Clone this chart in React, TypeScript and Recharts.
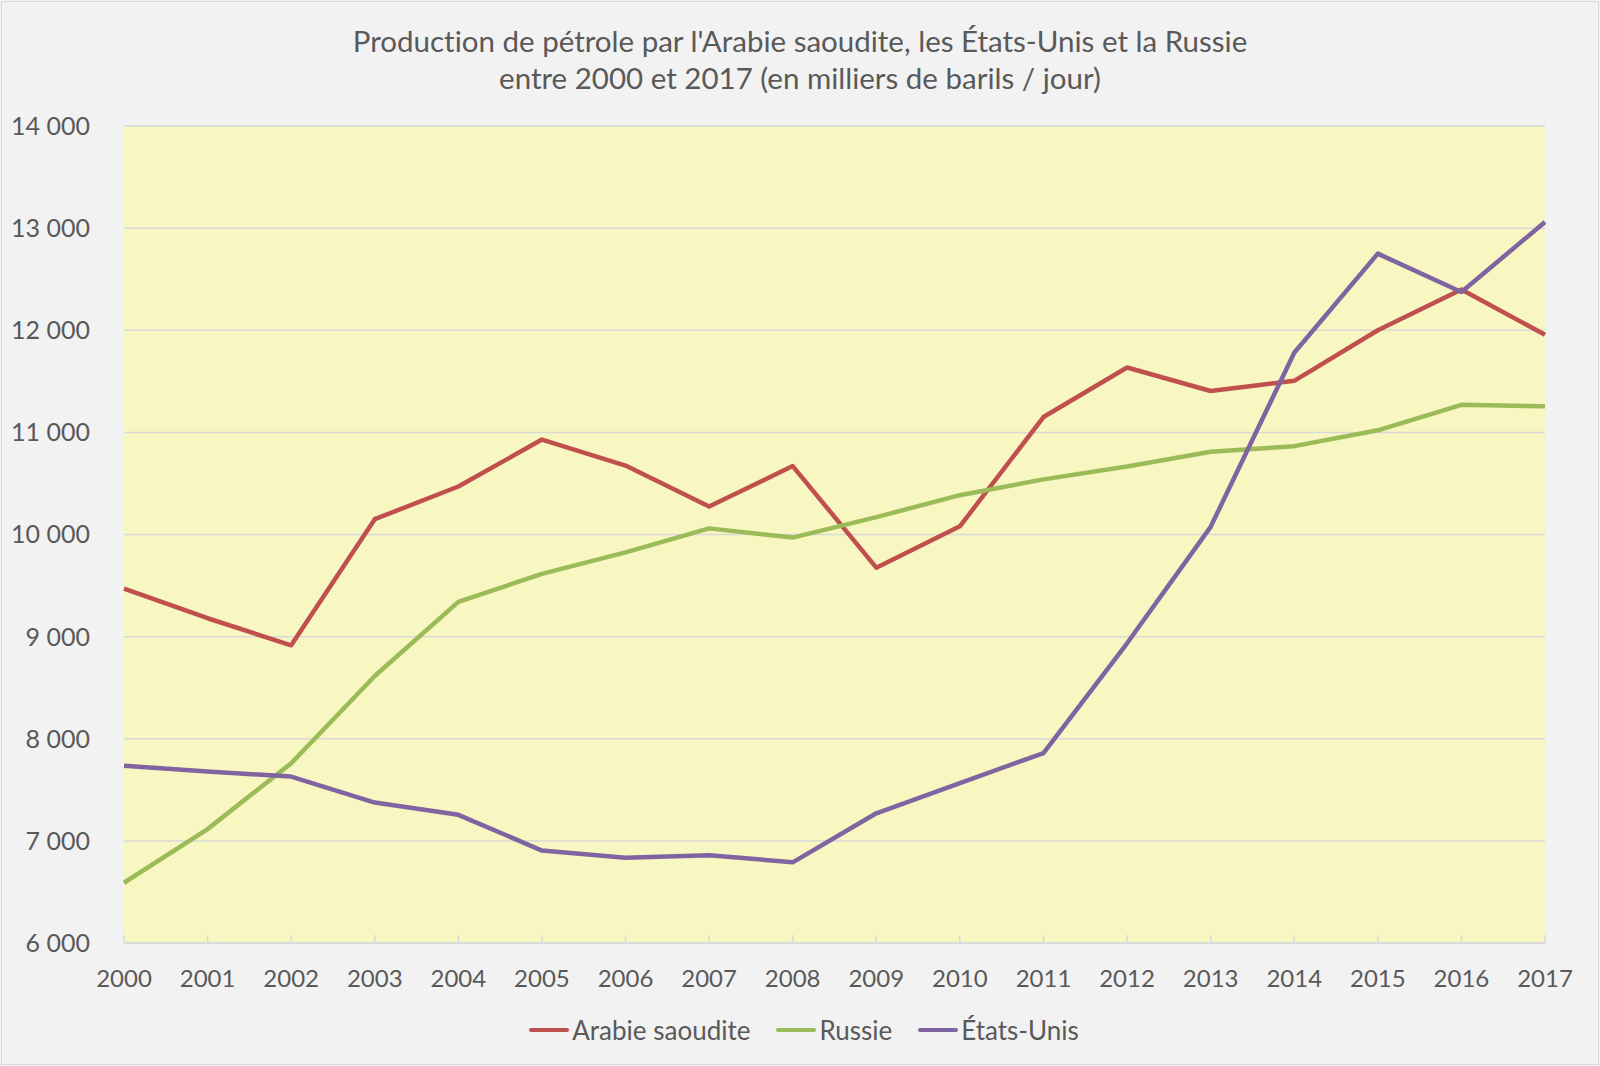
import React from "react";
import {
  CartesianGrid,
  Legend,
  Line,
  LineChart,
  XAxis,
  YAxis,
} from "recharts";

// milliers de barils / jour
const years = [
  "2000", "2001", "2002", "2003", "2004", "2005", "2006", "2007", "2008",
  "2009", "2010", "2011", "2012", "2013", "2014", "2015", "2016", "2017",
];
const arabie = [
  9470, 9180, 8915, 10150, 10470, 10930, 10675, 10275, 10670,
  9675, 10080, 11150, 11635, 11405, 11505, 12000, 12400, 11955,
];
const russie = [
  6590, 7115, 7760, 8615, 9340, 9615, 9825, 10060, 9970,
  10170, 10385, 10540, 10665, 10810, 10865, 11020, 11270, 11255,
];
const etatsUnis = [
  7735, 7680, 7630, 7375, 7255, 6905, 6835, 6860, 6790,
  7270, 7565, 7860, 8935, 10075, 11780, 12750, 12375, 13060,
];
const yTicks = [6000, 7000, 8000, 9000, 10000, 11000, 12000, 13000, 14000];

const data = years.map((year, i) => ({
  year,
  arabie: arabie[i],
  russie: russie[i],
  etatsUnis: etatsUnis[i],
}));

const FONT = "Lato, 'Open Sans', sans-serif";
const TEXT = "#595959";
const GRID = "#d9d9d9";
const X_TICK_MARGIN = 27;

const fmt = (v: number) => String(v).replace(/\B(?=(\d{3})+(?!\d))/g, " ");

function YearTick({ x, y, payload }: any) {
  const axisY = y - X_TICK_MARGIN;
  return (
    <g>
      <line x1={x} x2={x} y1={axisY - 8} y2={axisY} stroke={GRID} strokeWidth={1.5} />
      <text
        x={x}
        y={y}
        dy="0.71em"
        textAnchor="middle"
        fill={TEXT}
        fontSize={24}
        fontFamily={FONT}
      >
        {payload.value}
      </text>
    </g>
  );
}

function LegendContent({ payload }: any) {
  return (
    <div
      style={{
        display: "flex",
        justifyContent: "center",
        alignItems: "center",
        gap: 26,
        paddingLeft: 8,
        fontFamily: FONT,
        fontSize: 26,
        color: TEXT,
        lineHeight: "36px",
        fontVariantLigatures: "none",
      }}
    >
      {(payload || []).map((item: any) => (
        <span key={item.value} style={{ display: "flex", alignItems: "center" }}>
          <span
            style={{
              display: "inline-block",
              width: 40,
              height: 4.5,
              borderRadius: 2,
              background: item.color,
              marginRight: 3,
            }}
          />
          <span>{item.value}</span>
        </span>
      ))}
    </div>
  );
}

export default function App() {
  return (
    <div
      style={{
        position: "absolute",
        left: 0,
        top: 0,
        width: 1600,
        height: 1066,
        background: "#f2f2f2",
        overflow: "hidden",
      }}
    >
      <div
        style={{
          position: "absolute",
          inset: 1,
          border: `1px solid ${GRID}`,
        }}
      />
      <div
        style={{
          position: "absolute",
          top: 22,
          left: 0,
          width: 1600,
          textAlign: "center",
          fontFamily: FONT,
          fontSize: 29.5,
          lineHeight: "37px",
          color: TEXT,
          fontVariantLigatures: "none",
        }}
      >
        Production de pétrole par l'Arabie saoudite, les États-Unis et la Russie
        <br />
        entre 2000 et 2017 (en milliers de barils / jour)
      </div>
      <div style={{ position: "absolute", left: 0, top: 0 }}>
        <LineChart
          width={1600}
          height={1066}
          data={data}
          margin={{ top: 126, right: 55, bottom: 63, left: 24 }}
        >
          <CartesianGrid
            vertical={false}
            stroke={GRID}
            strokeWidth={1.5}
            fill="#f8f6c1"
          />
          <XAxis
            dataKey="year"
            height={60}
            axisLine={{ stroke: GRID, strokeWidth: 1.5 }}
            tickLine={false}
            tickSize={0}
            tickMargin={X_TICK_MARGIN}
            interval={0}
            tick={<YearTick />}
          />
          <YAxis
            width={100}
            domain={[6000, 14000]}
            ticks={yTicks}
            axisLine={false}
            tickLine={false}
            tickSize={0}
            tickMargin={34}
            tickFormatter={fmt}
            tick={{ fill: TEXT, fontSize: 25, fontFamily: FONT }}
          />
          <Legend
            layout="horizontal"
            verticalAlign="middle"
            align="center"
            content={<LegendContent />}
            wrapperStyle={{ top: 1012, left: 0, width: 1600, height: 36 }}
          />
          <Line
            name="Arabie saoudite"
            dataKey="arabie"
            stroke="#c0504d"
            strokeWidth={4.5}
            strokeLinejoin="round"
            dot={false}
            isAnimationActive={false}
          />
          <Line
            name="Russie"
            dataKey="russie"
            stroke="#9bbb59"
            strokeWidth={4.5}
            strokeLinejoin="round"
            dot={false}
            isAnimationActive={false}
          />
          <Line
            name="États-Unis"
            dataKey="etatsUnis"
            stroke="#8064a2"
            strokeWidth={4.5}
            strokeLinejoin="round"
            dot={false}
            isAnimationActive={false}
          />
        </LineChart>
      </div>
    </div>
  );
}
